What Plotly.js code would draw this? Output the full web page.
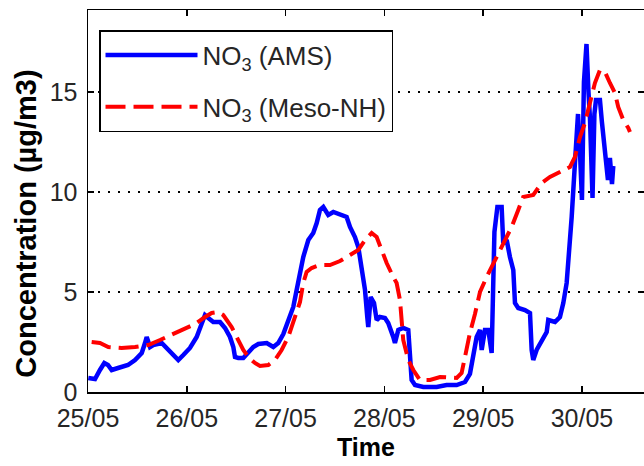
<!DOCTYPE html>
<html>
<head>
<meta charset="utf-8">
<script src="https://cdn.plot.ly/plotly-3.0.1.min.js"></script>
<style>html,body{margin:0;padding:0;background:#fff;}#chart{width:644px;height:466px;}</style>
</head>
<body>
<div id="chart"></div>
<script>
// Time in decimal days of May (25.0 = 25/05 00:00)
const amsTime = [25.003,25.071,25.121,25.165,25.202,25.240,25.304,25.405,25.476,25.544,25.577,25.594,25.628,25.661,25.746,25.797,25.863,25.914,25.965,26.032,26.100,26.151,26.184,26.218,26.268,26.336,26.387,26.437,26.471,26.488,26.521,26.572,26.622,26.673,26.724,26.809,26.876,26.926,26.977,27.027,27.078,27.112,27.179,27.230,27.280,27.315,27.348,27.382,27.432,27.483,27.551,27.618,27.652,27.702,27.736,27.770,27.804,27.827,27.837,27.861,27.895,27.922,27.955,28.006,28.039,28.090,28.107,28.141,28.191,28.242,28.259,28.276,28.310,28.394,28.529,28.630,28.732,28.816,28.866,28.900,28.934,28.968,28.985,29.018,29.052,29.086,29.102,29.114,29.144,29.187,29.203,29.238,29.271,29.305,29.322,29.355,29.423,29.474,29.491,29.507,29.541,29.592,29.643,29.659,29.727,29.777,29.811,29.845,29.861,29.896,29.929,29.960,29.980,30.000,30.020,30.046,30.066,30.081,30.107,30.126,30.142,30.182,30.202,30.223,30.243,30.263,30.283,30.304,30.317];
const amsNO3 = [0.7,0.65,1.1,1.45,1.35,1.1,1.2,1.35,1.6,1.95,2.45,2.75,2.25,2.35,2.45,2.2,1.85,1.6,1.85,2.2,2.75,3.45,3.85,3.7,3.5,3.5,3.2,2.75,2.25,1.75,1.7,1.7,2.0,2.25,2.4,2.45,2.25,2.45,2.9,3.6,4.25,5.1,6.75,7.6,7.95,8.45,9.1,9.25,8.85,9.0,8.85,8.75,8.25,7.75,7.25,6.25,5.1,3.75,3.25,4.75,4.45,3.6,3.75,3.7,3.45,2.75,2.45,3.1,3.2,3.1,1.75,0.6,0.35,0.25,0.25,0.35,0.35,0.5,0.9,1.95,2.75,3.1,2.1,3.1,3.1,1.95,5.1,8.0,9.25,9.25,7.45,7.6,6.75,6.1,4.45,4.2,4.1,3.95,2.1,1.6,2.1,2.5,3.0,3.6,3.5,3.75,4.45,5.45,6.45,8.75,11.45,13.9,12.0,9.6,15.5,17.4,15.0,13.7,9.7,13.9,14.6,14.6,13.5,12.4,11.8,10.6,11.7,10.4,11.3];
const mesoTime = [25.037,25.121,25.205,25.341,25.476,25.610,25.729,25.847,25.982,26.083,26.184,26.252,26.319,26.369,26.454,26.521,26.572,26.622,26.690,26.741,26.825,26.893,26.960,27.027,27.095,27.146,27.179,27.213,27.264,27.348,27.449,27.551,27.652,27.736,27.804,27.871,27.922,27.973,28.023,28.090,28.124,28.158,28.175,28.191,28.242,28.293,28.360,28.462,28.563,28.664,28.732,28.782,28.816,28.866,28.917,28.968,29.035,29.119,29.203,29.288,29.355,29.405,29.507,29.592,29.676,29.760,29.879,29.929,29.980,30.030,30.081,30.131,30.182,30.233,30.283,30.334,30.367,30.418,30.469,30.486];
const mesoNO3 = [2.5,2.45,2.25,2.2,2.25,2.35,2.6,2.85,3.15,3.4,3.75,3.95,4.0,3.85,3.25,2.6,2.1,1.75,1.45,1.3,1.35,1.6,2.1,2.75,3.75,4.5,5.45,6.0,6.2,6.35,6.35,6.55,6.85,7.1,7.6,7.95,7.75,7.1,6.45,5.75,5.45,4.6,3.45,2.6,1.6,1.1,0.6,0.6,0.75,0.75,0.7,0.95,1.75,2.95,3.9,5.0,5.75,6.6,7.45,8.25,9.1,9.75,9.85,10.45,10.75,10.95,11.25,11.75,12.75,13.45,14.45,15.45,16.1,16.0,15.45,14.95,14.25,13.6,13.2,13.0];
const xTickVals = [25,26,27,28,29,30];
const xTickText = ['25/05','26/05','27/05','28/05','29/05','30/05'];
const yTickVals = [0,5,10,15];

const FONT = 'Liberation Sans, Arial, sans-serif';

const traces = [
  {x: amsTime, y: amsNO3, type: 'scatter', mode: 'lines', name: 'NO<sub>3</sub> (AMS)',
   legendgroup: 'a', line: {color: '#0000ff', width: 4.5}},
  {x: mesoTime, y: mesoNO3, type: 'scatter', mode: 'lines', name: 'NO<sub>3</sub> (Meso-NH)',
   legendgroup: 'b', line: {color: '#ff0000', width: 4, dash: '20px,8px'}}
];

const layout = {
  width: 644, height: 466,
  margin: {l: 88, r: 0, t: 10, b: 74},
  paper_bgcolor: '#fff', plot_bgcolor: '#fff',
  font: {family: FONT, size: 25, color: '#262626'},
  showlegend: true,
  legend: {x: 0.0198, y: 0.9476, xanchor: 'left', yanchor: 'top',
    bgcolor: '#fff', bordercolor: '#000', borderwidth: 1.5,
    font: {family: FONT, size: 26, color: '#262626'},
    itemwidth: 92, tracegroupgap: 15, itemclick: false},
  xaxis: {
    range: [25, 30.628], tickmode: 'array', tickvals: xTickVals, ticktext: xTickText,
    ticks: 'inside', ticklen: 6, tickcolor: '#000', tickwidth: 1.5,
    showline: true, linecolor: '#000', linewidth: 1.5, mirror: 'ticks',
    showgrid: false, zeroline: false, ticklabelstandoff: 3,
    tickfont: {family: FONT, size: 25, color: '#262626'},
    title: {text: 'Time', font: {family: FONT, size: 25, color: '#000', weight: 'bold'}, standoff: 8}
  },
  yaxis: {
    range: [0, 19.1], tickmode: 'array', tickvals: yTickVals,
    ticks: 'inside', ticklen: 6, tickcolor: '#000', tickwidth: 1.5,
    showline: true, linecolor: '#000', linewidth: 1.5, mirror: 'ticks',
    showgrid: true, gridcolor: '#000', gridwidth: 1.5, griddash: '1.5px,8.5px',
    zeroline: false, ticklabelstandoff: 4,
    tickfont: {family: FONT, size: 25, color: '#262626'}
  },
  annotations: [{
    text: '<b>Concentration (µg/m3)</b>', textangle: -90, showarrow: false,
    xref: 'paper', yref: 'paper', x: -0.113, y: 0.441, xanchor: 'center', yanchor: 'middle',
    font: {family: FONT, size: 29, color: '#000'}
  }]
};

Plotly.newPlot('chart', traces, layout, {displayModeBar: false, staticPlot: true});
</script>
</body>
</html>
